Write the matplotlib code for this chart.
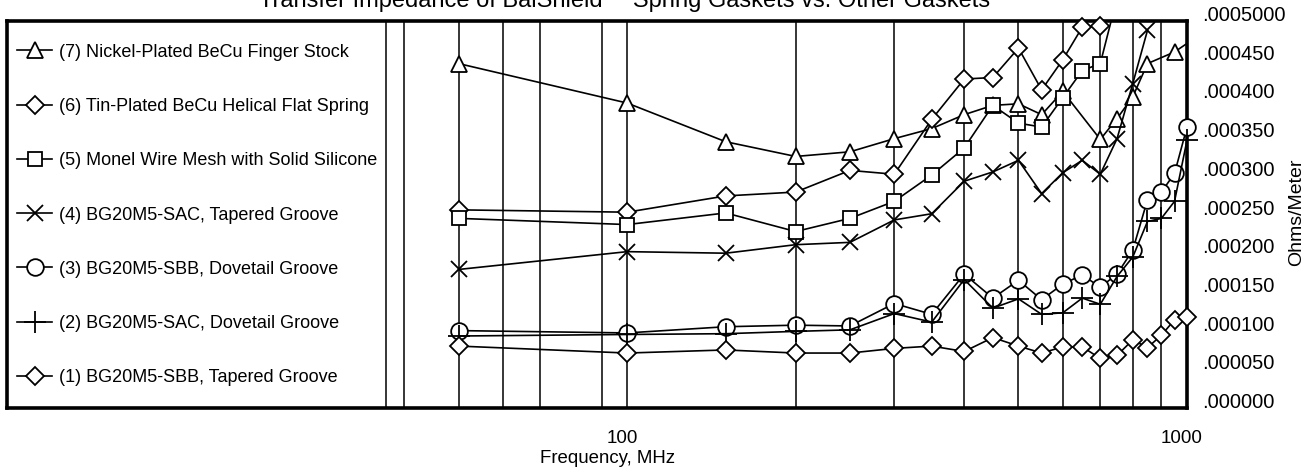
import numpy as np
import matplotlib
matplotlib.use("Agg")
import matplotlib.pyplot as plt
import matplotlib.transforms as mtransforms
from matplotlib.lines import Line2D
from matplotlib.ticker import FixedLocator, NullFormatter

plt.rcParams['font.family'] = ['Liberation Sans', 'DejaVu Sans']

# frequencies (MHz) and transfer impedance (x1e-4 Ohms/Meter) per gasket
f7 = [50, 100, 150, 200, 250, 300, 350, 400, 450, 500, 550, 600, 700, 750, 800, 850, 950, 1000]
z7 = [4.45, 3.94, 3.44, 3.25, 3.31, 3.48, 3.61, 3.79, 3.91, 3.93, 3.79, 4.09, 3.47, 3.74, 4.02, 4.45, 4.60, 4.71]

f6 = [50, 100, 150, 200, 250, 300, 350, 400, 450, 500, 550, 600, 650, 700]
z6 = [2.56, 2.53, 2.74, 2.79, 3.07, 3.02, 3.73, 4.25, 4.27, 4.65, 4.11, 4.50, 4.92, 4.93]

f5 = [50, 100, 150, 200, 250, 300, 350, 400, 450, 500, 550, 600, 650, 700, 750]
z5 = [2.45, 2.37, 2.52, 2.28, 2.45, 2.67, 3.01, 3.36, 3.91, 3.68, 3.63, 4.01, 4.36, 4.45, 5.30]

f4 = [50, 100, 150, 200, 250, 300, 350, 400, 450, 500, 550, 600, 650, 700, 750, 800, 850]
z4 = [1.79, 2.02, 2.00, 2.11, 2.14, 2.43, 2.51, 2.93, 3.05, 3.20, 2.77, 3.04, 3.20, 3.02, 3.48, 4.19, 4.88]

f3 = [50, 100, 150, 200, 250, 300, 350, 400, 450, 500, 550, 600, 650, 700, 750, 800, 850, 900, 950, 1000]
z3 = [1.00, 0.97, 1.05, 1.07, 1.06, 1.35, 1.21, 1.73, 1.42, 1.65, 1.40, 1.60, 1.72, 1.56, 1.73, 2.04, 2.69, 2.79, 3.03, 3.63]

f2 = [50, 100, 150, 200, 250, 300, 350, 400, 450, 500, 550, 600, 650, 700, 750, 800, 850, 900, 950, 1000]
z2 = [0.93, 0.95, 0.96, 0.99, 1.01, 1.22, 1.11, 1.66, 1.29, 1.41, 1.21, 1.23, 1.42, 1.34, 1.70, 1.95, 2.41, 2.45, 2.67, 3.46]

f1 = [50, 100, 150, 200, 250, 300, 350, 400, 450, 500, 550, 600, 650, 700, 750, 800, 850, 900, 950, 1000]
z1 = [0.80, 0.71, 0.75, 0.71, 0.71, 0.77, 0.80, 0.73, 0.91, 0.80, 0.71, 0.79, 0.79, 0.64, 0.68, 0.88, 0.78, 0.94, 1.14, 1.18]

labels = ["(7) Nickel-Plated BeCu Finger Stock",
          "(6) Tin-Plated BeCu Helical Flat Spring",
          "(5) Monel Wire Mesh with Solid Silicone",
          "(4) BG20M5-SAC, Tapered Groove",
          "(3) BG20M5-SBB, Dovetail Groove",
          "(2) BG20M5-SAC, Dovetail Groove",
          "(1) BG20M5-SBB, Tapered Groove"]

yticks = [0, 0.00005, 0.0001, 0.00015, 0.0002, 0.00025, 0.0003, 0.00035, 0.0004, 0.00045, 0.0005]
ytick_labels = [".000000", ".000050", ".000100", ".000150", ".000200", ".000250",
                ".000300", ".000350", ".000400", ".000450", ".0005000"]
grid_freqs = [40, 50, 60, 70, 90, 100, 200, 300, 400, 500, 600, 700, 800, 900]

W, H = 1304, 469
fig = plt.figure(figsize=(W / 100, H / 100), dpi=100)
ax = fig.add_axes([7 / W, 1 - 408 / H, 1180 / W, 387 / H])

series = [
    (f7, z7, '^', 11, True, True),
    (f6, z6, 'D', 9.5, False, False),
    (f5, z5, 's', 10.5, True, False),
    (f4, z4, 'x', 11.5, True, False),
    (f3, z3, 'o', 12, False, False),
    (f2, z2, '+', 16, False, False),
    (f1, z1, 'D', 9.5, False, False),
]

handles = []
for (f, z, m, ms, clip, skip_last) in series:
    y = np.array(z) * 1e-4
    mk = slice(0, len(f) - 1) if skip_last else None
    ax.plot(f, y, color='black', lw=1.2, marker=m, ms=ms, mfc='white', mec='black',
            mew=1.3, markevery=mk, clip_on=clip, zorder=3)
    handles.append(Line2D([], [], color='black', lw=1.2, marker=m, ms=ms,
                          mfc='white', mec='black', mew=1.3))

ax.set_xscale('log')
ax.set_xlim(100 * 10 ** ((7 - 627) / 559.7), 1000)
ax.set_ylim(0, 0.0005)

ax.xaxis.set_major_locator(FixedLocator([100, 1000]))
ax.xaxis.set_minor_locator(FixedLocator(grid_freqs))
ax.xaxis.set_minor_formatter(NullFormatter())
ax.set_xticklabels(["100", "1000"])
for g in grid_freqs:
    ax.axvline(g, color='black', lw=1.1, zorder=1)

# legend panel divider
ax.plot([0.3212, 0.3212], [0, 1], transform=ax.transAxes, color='black', lw=1.1, zorder=2)

ax.yaxis.tick_right()
ax.set_yticks(yticks)
ax.set_yticklabels(ytick_labels)
ax.tick_params(axis='both', which='both', length=0)
ax.tick_params(axis='x', labelsize=13.5, pad=16)
ax.tick_params(axis='y', labelsize=14.5, pad=11)
for lbl in ax.get_yticklabels():
    lbl.set_verticalalignment('baseline')
shift = mtransforms.ScaledTranslation(-5 / 100, 0, fig.dpi_scale_trans)
for lbl in ax.get_xticklabels():
    lbl.set_transform(lbl.get_transform() + shift)

for s in ax.spines.values():
    s.set_linewidth(2.6)

ax.legend(handles, labels, loc='upper left', bbox_to_anchor=(0.0085, 0.9416),
          frameon=False, fontsize=13, labelspacing=2.066, handlelength=1.95,
          handletextpad=0.35, borderpad=0, borderaxespad=0)

fig.text(608 / W, 1 - 458 / H, "Frequency, MHz", ha='center', va='center', fontsize=13.4)
fig.text(1297 / W, 1 - 212 / H, "Ohms/Meter", rotation=90, ha='center', va='center', fontsize=14)
fig.text(0.479, 1 - 7 / H, "Transfer Impedance of BalShield\u2122 Spring Gaskets vs. Other Gaskets",
         ha='center', va='baseline', fontsize=17)

fig.savefig("out.png", dpi=100)
